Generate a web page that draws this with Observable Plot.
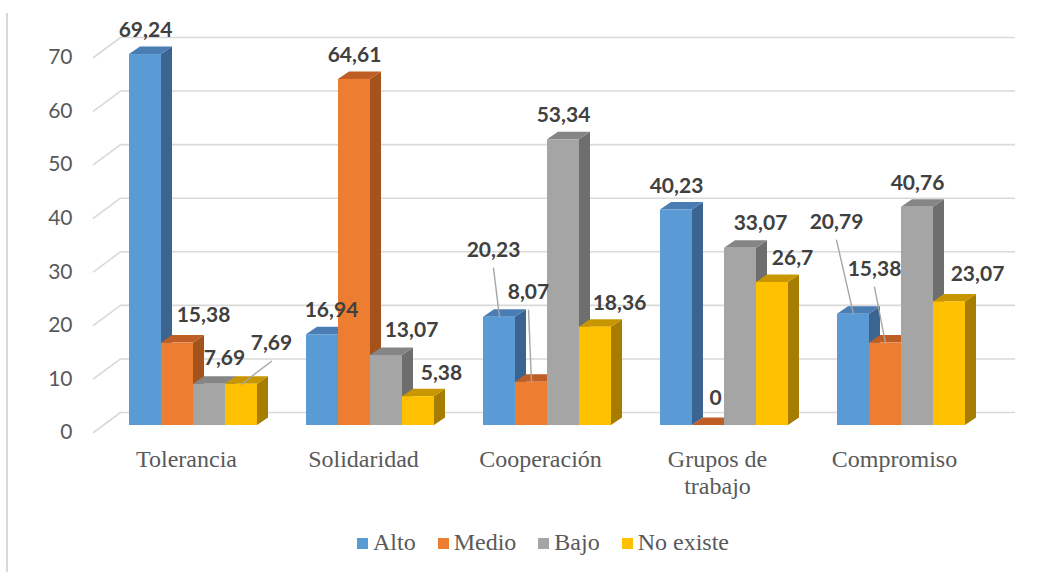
<!DOCTYPE html>
<html><head><meta charset="utf-8">
<script src="https://cdn.jsdelivr.net/npm/d3@7"></script>
<script src="https://cdn.jsdelivr.net/npm/@observablehq/plot@0.6"></script>
<style>
body{margin:0;background:#fff;}
#wrap{position:relative;width:1053px;height:572px;overflow:hidden;background:#fff;}
#back,#chart{position:absolute;left:0;top:0;}
#border{position:absolute;left:6px;top:13px;width:2px;height:559px;background:#D9D9D9;}
#legend{position:absolute;left:357px;top:528px;display:flex;align-items:center;font-family:"Liberation Serif","Times New Roman",serif;font-size:24px;color:#595959;line-height:28px;white-space:nowrap;}
.item{display:flex;align-items:center;margin-right:22px;}
.sw{width:11px;height:11px;margin-right:5px;margin-top:3px;}
</style></head><body>
<div id="wrap"><div id="border"></div><div id="back"></div><div id="chart"></div><div id="legend"></div></div>
<script>
// ---- data ----
const categories = ["Tolerancia", "Solidaridad", "Cooperación", "Grupos de trabajo", "Compromiso"];
const categoryLabels = ["Tolerancia", "Solidaridad", "Cooperación", "Grupos de\ntrabajo", "Compromiso"];
const series = ["Alto", "Medio", "Bajo", "No existe"];
const alto = [69.24, 16.94, 20.23, 40.23, 20.79];
const medio = [15.38, 64.61, 8.07, 0, 15.38];
const bajo = [7.69, 13.07, 53.34, 33.07, 40.76];
const noExiste = [7.69, 5.38, 18.36, 26.7, 23.07];
const yTicks = [0, 10, 20, 30, 40, 50, 60, 70];

// ---- styles ----
const frontColors = ["#5B9BD5", "#ED7D31", "#A5A5A5", "#FFC000"];
const topColors = ["#4A7DB3", "#BE5E24", "#858585", "#C89600"];
const sideColors = ["#3B6590", "#A4531D", "#6E6E6E", "#A67D00"];
const DX = 11, DY = 7.5;   // bar depth
const BX = 7, BY = -7;     // bar offset from floor front
const WX = 27, WY = -20;   // back wall offset
// manual label nudges [dx, dy, leader]
const labelNudges = {
  "Tolerancia|Medio": [26, -4],
  "Tolerancia|Bajo": [15, -2],
  "Tolerancia|No existe": [30, -17, true],
  "Solidaridad|Alto": [9, 0],
  "Solidaridad|Bajo": [25, -1],
  "Solidaridad|No existe": [23, 1],
  "Cooperación|Alto": [-6, -43, true],
  "Cooperación|Medio": [-3, -66, true],
  "Cooperación|No existe": [24, 0],
  "Grupos de trabajo|Medio": [7, -3],
  "Grupos de trabajo|Bajo": [20, -1],
  "Grupos de trabajo|No existe": [20, 0],
  "Compromiso|Alto": [-17, -68, true],
  "Compromiso|Medio": [-11, -50, true],
  "Compromiso|No existe": [28, -4]
};

const valuesBySeries = [alto, medio, bajo, noExiste];
const data = [];
categories.forEach((c, i) => series.forEach((s, j) => data.push({category: c, series: s, value: valuesBySeries[j][i]})));
const key = d => d.category + "|" + d.series;
const fmt = v => String(v).replace(".", ",");

function face(kind) {
  return function(index, scales, values, dimensions, context, next) {
    const g = next(index, scales, values, dimensions, context);
    if (kind === "front") return g;
    for (const r of Array.from(g.querySelectorAll("rect"))) {
      const x = +r.getAttribute("x"), y = +r.getAttribute("y");
      const w = +r.getAttribute("width"), h = +r.getAttribute("height");
      const pts = kind === "top"
        ? [[x, y], [x + w, y], [x + w + DX, y - DY], [x + DX, y - DY]]
        : [[x + w, y], [x + w + DX, y - DY], [x + w + DX, y + h - DY], [x + w, y + h]];
      const p = document.createElementNS("http://www.w3.org/2000/svg", "polygon");
      p.setAttribute("points", pts.map(q => q.join(",")).join(" "));
      for (const a of Array.from(r.attributes)) if (!["x", "y", "width", "height"].includes(a.name)) p.setAttribute(a.name, a.value);
      r.replaceWith(p);
    }
    return g;
  };
}

const lineShape = {draw(context, l) { context.moveTo(0, 0); context.lineTo(0, -l); }};

const common = {
  width: 1053, height: 520,
  marginLeft: 93, marginRight: 65, marginTop: 57, marginBottom: 88,
  style: {fontFamily: "Lato, sans-serif", background: "transparent", overflow: "visible"},
  y: {domain: [0, 70], axis: null}
};

// background: wall gridlines, floor diagonals, y tick labels
const back = Plot.plot({
  ...common,
  x: {axis: null},
  marks: [
    Plot.ruleY(yTicks, {dx: WX, dy: WY, stroke: "#D9D9D9", strokeWidth: 1.6}),
    Plot.vector(yTicks, {y: d => d, frameAnchor: "left", anchor: "start", shape: lineShape,
      length: Math.hypot(WX, WY), rotate: Math.atan2(WX, -WY) * 180 / Math.PI, stroke: "#D9D9D9", strokeWidth: 1.6}),
    Plot.text(yTicks, {y: d => d, text: d => String(d), frameAnchor: "left", dx: -21, textAnchor: "end",
      fontFamily: "Lato, 'Open Sans', sans-serif", fontSize: 21, fill: "#595959"})
  ]
});
document.getElementById("back").appendChild(back);

const barMarks = [];
for (const kind of ["side", "top", "front"]) {
  series.forEach((s, j) => {
    const fill = kind === "front" ? frontColors[j] : kind === "top" ? topColors[j] : sideColors[j];
    barMarks.push(Plot.barY(data, {
      filter: d => d.series === s,
      fx: "category", x: "series", y1: 0, y2: "value",
      fill, dx: BX, dy: BY, render: face(kind)
    }));
  });
}

const labelStyle = {fontFamily: "Lato, 'Open Sans', sans-serif", fontWeight: "bold", fontSize: 21, fill: "#404040"};
const labelMarks = [
  Plot.text(data, {filter: d => !labelNudges[key(d)], fx: "category", x: "series", y: "value",
    text: d => fmt(d.value), dx: BX, dy: BY - 24, ...labelStyle})
];
const leaderMarks = [];
for (const [k, [ox, oy, leader]] of Object.entries(labelNudges)) {
  labelMarks.push(Plot.text(data, {filter: d => key(d) === k, fx: "category", x: "series", y: "value",
    text: d => fmt(d.value), dx: BX + ox, dy: BY - 24 + oy, ...labelStyle}));
  if (leader) {
    const vx = ox, vy = oy - 6;
    leaderMarks.push(Plot.vector(data, {filter: d => key(d) === k, fx: "category", x: "series", y: "value",
      dx: BX, dy: BY, anchor: "start", shape: lineShape,
      length: Math.hypot(vx, vy), rotate: Math.atan2(vx, -vy) * 180 / Math.PI,
      stroke: "#A6A6A6", strokeWidth: 1.4}));
  }
}

const chart = Plot.plot({
  ...common,
  fx: {domain: categories, paddingInner: 0.2745, paddingOuter: 0.152, axis: null, label: null},
  x: {domain: series, padding: 0, axis: null},
  marks: [
    Plot.text(categories, {fx: d => d, text: d => categoryLabels[categories.indexOf(d)], frameAnchor: "bottom",
      lineAnchor: "top", dy: 16, lineHeight: 1.1, fontFamily: "'Liberation Serif', 'Times New Roman', serif",
      fontSize: 24, fill: "#595959"}),
    ...barMarks,
    ...leaderMarks,
    ...labelMarks
  ]
});
document.getElementById("chart").appendChild(chart);

const legend = document.getElementById("legend");
series.forEach((s, j) => {
  const item = document.createElement("div");
  item.className = "item";
  const sw = document.createElement("span");
  sw.className = "sw";
  sw.style.background = frontColors[j];
  const t = document.createElement("span");
  t.textContent = s;
  item.appendChild(sw); item.appendChild(t);
  legend.appendChild(item);
});
</script>
</body></html>
